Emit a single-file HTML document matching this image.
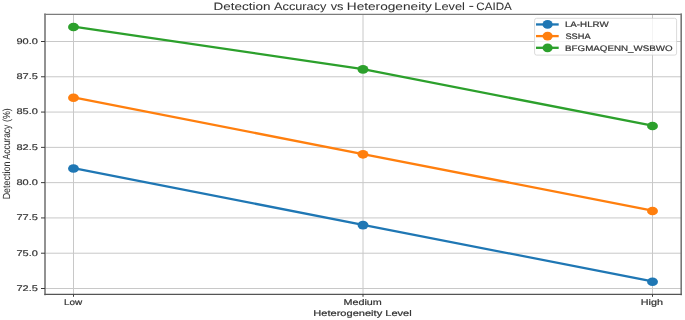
<!DOCTYPE html>
<html><head><meta charset="utf-8"><style>
html,body{margin:0;padding:0;background:#fff;}
body{width:685px;height:320px;overflow:hidden;font-family:"Liberation Sans",sans-serif;}
svg{display:block;will-change:transform;}
</style></head><body>
<svg width="685" height="320" viewBox="0 0 685 320" font-family="Liberation Sans, sans-serif">
<style>text{stroke:#333;stroke-width:0.2px;stroke-linejoin:round;text-rendering:geometricPrecision;} text.t{stroke-width:0.05px;}</style>
<rect width="685" height="320" fill="#fff"/>
<g stroke="#c8c8c8" stroke-width="1"><line x1="73.50" y1="14.4" x2="73.50" y2="294.4"/><line x1="363.00" y1="14.4" x2="363.00" y2="294.4"/><line x1="652.50" y1="14.4" x2="652.50" y2="294.4"/><line x1="45.0" y1="41.50" x2="681.2" y2="41.50"/><line x1="45.0" y1="76.78" x2="681.2" y2="76.78"/><line x1="45.0" y1="112.07" x2="681.2" y2="112.07"/><line x1="45.0" y1="147.36" x2="681.2" y2="147.36"/><line x1="45.0" y1="182.64" x2="681.2" y2="182.64"/><line x1="45.0" y1="217.93" x2="681.2" y2="217.93"/><line x1="45.0" y1="253.21" x2="681.2" y2="253.21"/><line x1="45.0" y1="288.50" x2="681.2" y2="288.50"/></g>
<polyline points="73.50,168.19 363.00,224.80 652.50,281.42" fill="none" stroke="#1f77b4" stroke-width="2.3" stroke-linejoin="round"/>
<ellipse cx="73.50" cy="168.49" rx="5.45" ry="4.3" fill="#1f77b4"/>
<ellipse cx="363.00" cy="225.10" rx="5.45" ry="4.3" fill="#1f77b4"/>
<ellipse cx="652.50" cy="281.72" rx="5.45" ry="4.3" fill="#1f77b4"/>
<polyline points="73.50,97.42 363.00,154.03 652.50,210.65" fill="none" stroke="#ff7f0e" stroke-width="2.3" stroke-linejoin="round"/>
<ellipse cx="73.50" cy="97.72" rx="5.45" ry="4.3" fill="#ff7f0e"/>
<ellipse cx="363.00" cy="154.33" rx="5.45" ry="4.3" fill="#ff7f0e"/>
<ellipse cx="652.50" cy="210.95" rx="5.45" ry="4.3" fill="#ff7f0e"/>
<polyline points="73.50,26.65 363.00,69.11 652.50,125.72" fill="none" stroke="#2ca02c" stroke-width="2.3" stroke-linejoin="round"/>
<ellipse cx="73.50" cy="26.95" rx="5.45" ry="4.3" fill="#2ca02c"/>
<ellipse cx="363.00" cy="69.41" rx="5.45" ry="4.3" fill="#2ca02c"/>
<ellipse cx="652.50" cy="126.02" rx="5.45" ry="4.3" fill="#2ca02c"/>
<g stroke-linecap="square">
<line x1="45.0" y1="14.4" x2="45.0" y2="294.4" stroke="#777" stroke-width="1.6"/>
<line x1="681.2" y1="14.4" x2="681.2" y2="294.4" stroke="#777" stroke-width="1.6"/>
<line x1="45.0" y1="14.4" x2="681.2" y2="14.4" stroke="#7c7c7c" stroke-width="1.4"/>
<line x1="45.0" y1="294.4" x2="681.2" y2="294.4" stroke="#555" stroke-width="1.2"/>
</g>
<g stroke="#3a3a3a" stroke-width="1"><line x1="41.00" y1="41.50" x2="45.0" y2="41.50"/><line x1="41.00" y1="76.78" x2="45.0" y2="76.78"/><line x1="41.00" y1="112.07" x2="45.0" y2="112.07"/><line x1="41.00" y1="147.36" x2="45.0" y2="147.36"/><line x1="41.00" y1="182.64" x2="45.0" y2="182.64"/><line x1="41.00" y1="217.93" x2="45.0" y2="217.93"/><line x1="41.00" y1="253.21" x2="45.0" y2="253.21"/><line x1="41.00" y1="288.50" x2="45.0" y2="288.50"/><line x1="73.50" y1="294.4" x2="73.50" y2="296.80"/><line x1="363.00" y1="294.4" x2="363.00" y2="296.80"/><line x1="652.50" y1="294.4" x2="652.50" y2="296.80"/></g>
<text x="16.43" y="43.90" font-size="8.2" textLength="21.39" lengthAdjust="spacingAndGlyphs" fill="#333">90.0</text>
<text x="16.43" y="79.19" font-size="8.2" textLength="21.39" lengthAdjust="spacingAndGlyphs" fill="#333">87.5</text>
<text x="16.43" y="114.47" font-size="8.2" textLength="21.39" lengthAdjust="spacingAndGlyphs" fill="#333">85.0</text>
<text x="16.43" y="149.76" font-size="8.2" textLength="21.39" lengthAdjust="spacingAndGlyphs" fill="#333">82.5</text>
<text x="16.43" y="185.04" font-size="8.2" textLength="21.39" lengthAdjust="spacingAndGlyphs" fill="#333">80.0</text>
<text x="16.43" y="220.33" font-size="8.2" textLength="21.39" lengthAdjust="spacingAndGlyphs" fill="#333">77.5</text>
<text x="16.43" y="255.61" font-size="8.2" textLength="21.39" lengthAdjust="spacingAndGlyphs" fill="#333">75.0</text>
<text x="16.43" y="290.89" font-size="8.2" textLength="21.39" lengthAdjust="spacingAndGlyphs" fill="#333">72.5</text>
<text x="63.99" y="305.00" font-size="8.3" textLength="18.19" lengthAdjust="spacingAndGlyphs" fill="#333">Low</text>
<text x="343.41" y="305.00" font-size="8.3" textLength="38.40" lengthAdjust="spacingAndGlyphs" fill="#333">Medium</text>
<text x="640.72" y="305.00" font-size="8.3" textLength="22.19" lengthAdjust="spacingAndGlyphs" fill="#333">High</text>
<text x="313.29" y="316.10" font-size="8.3" textLength="98.45" lengthAdjust="spacingAndGlyphs" fill="#333">Heterogeneity Level</text>
<g transform="rotate(-90)">
<text x="-199.33" y="9.80" font-size="10.3" textLength="37.71" lengthAdjust="spacingAndGlyphs" fill="#333" class="t">Detection</text>
<text x="-159.42" y="9.80" font-size="10.3" textLength="34.73" lengthAdjust="spacingAndGlyphs" fill="#333" class="t">Accuracy</text>
<text x="-121.95" y="9.80" font-size="10.3" textLength="13.75" lengthAdjust="spacingAndGlyphs" fill="#333" class="t">(%)</text>
</g>
<text x="213.60" y="10.00" font-size="10.8" textLength="56.88" lengthAdjust="spacingAndGlyphs" fill="#333" class="t">Detection</text>
<text x="274.08" y="10.00" font-size="10.8" textLength="52.25" lengthAdjust="spacingAndGlyphs" fill="#333" class="t">Accuracy</text>
<text x="330.66" y="10.00" font-size="10.8" textLength="12.81" lengthAdjust="spacingAndGlyphs" fill="#333" class="t">vs</text>
<text x="346.78" y="10.00" font-size="10.8" textLength="85.05" lengthAdjust="spacingAndGlyphs" fill="#333" class="t">Heterogeneity</text>
<text x="434.25" y="10.00" font-size="10.8" textLength="30.71" lengthAdjust="spacingAndGlyphs" fill="#333" class="t">Level</text>
<text x="476.31" y="10.00" font-size="10.8" textLength="35.51" lengthAdjust="spacingAndGlyphs" fill="#333" class="t">CAIDA</text>
<rect x="469.3" y="5.9" width="4.0" height="1.0" fill="#333"/>
<rect x="534.6" y="18.3" width="142.0" height="36.8" rx="2" fill="#fff" fill-opacity="0.8" stroke="#d0d0d0" stroke-width="0.8"/>
<line x1="536.0" y1="24.45" x2="558.7" y2="24.45" stroke="#1f77b4" stroke-width="2.3"/>
<ellipse cx="547.6" cy="24.45" rx="5.1" ry="4.35" fill="#1f77b4"/>
<text x="564.90" y="27.15" font-size="8.0" textLength="43.83" lengthAdjust="spacingAndGlyphs" fill="#333">LA-HLRW</text>
<line x1="536.0" y1="36.1" x2="558.7" y2="36.1" stroke="#ff7f0e" stroke-width="2.3"/>
<ellipse cx="547.6" cy="36.1" rx="5.1" ry="4.35" fill="#ff7f0e"/>
<text x="565.43" y="38.80" font-size="8.0" textLength="25.19" lengthAdjust="spacingAndGlyphs" fill="#333">SSHA</text>
<line x1="536.0" y1="47.8" x2="558.7" y2="47.8" stroke="#2ca02c" stroke-width="2.3"/>
<ellipse cx="547.6" cy="47.8" rx="5.1" ry="4.35" fill="#2ca02c"/>
<text x="565.05" y="50.50" font-size="8.0" textLength="107.62" lengthAdjust="spacingAndGlyphs" fill="#333">BFGMAQENN_WSBWO</text>
</svg>
</body></html>
